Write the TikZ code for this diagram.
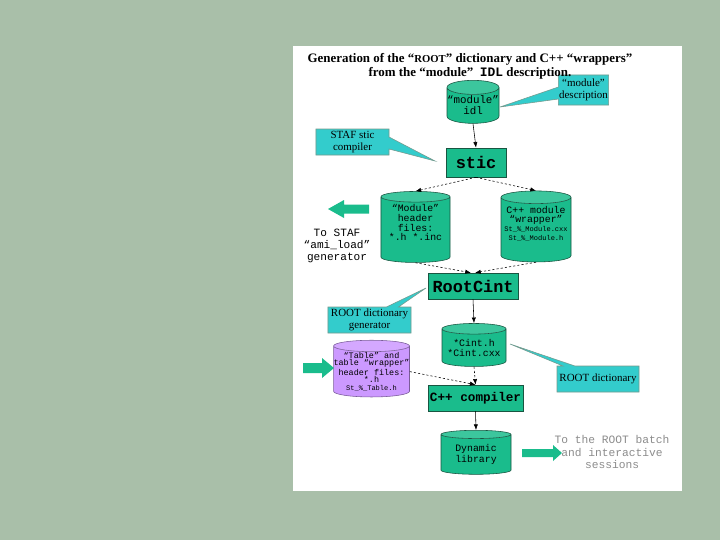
\documentclass[tikz,border=0pt]{standalone}
\usepackage{fontspec}
\setmainfont{Liberation Serif}
\setmonofont{Liberation Mono}
\usepackage{tikz}
\usetikzlibrary{shapes.geometric, shapes.callouts, arrows.meta}

\definecolor{slidebg}{RGB}{169,191,169}
\definecolor{boxgreen}{RGB}{26,188,140}
\definecolor{boxedge}{RGB}{25,85,65}
\definecolor{notecyan}{RGB}{51,204,204}
\definecolor{tablepurple}{RGB}{204,153,255}
\newcommand{\fsz}[2]{\fontsize{#1}{#2}\selectfont}

\begin{document}
\begin{tikzpicture}[x=0.025cm, y=-0.025cm,
  store/.style={cylinder, shape border rotate=90, aspect=0.2, draw=boxedge,
    cylinder uses custom fill, cylinder body fill=boxgreen,
    cylinder end fill=boxgreen!85!white, align=center, inner sep=0pt},
  tool/.style={rectangle, draw=boxedge, fill=boxgreen, inner sep=0pt,
    font=\ttfamily\bfseries},
  note/.style={rectangle callout, draw=boxedge!60, fill=notecyan, align=center,
    inner sep=0.5pt, callout pointer width=0.3cm, font=\fsz{7.8}{9}},
  flow/.style={-{Latex[length=4pt,width=3pt]}, black, thin},
  weak/.style={flow, dash pattern=on 1.5pt off 1.5pt}]

  %% Slide and page
  \fill[slidebg] (0,0) rectangle (720,540);
  \fill[white] (293,46) rectangle (682,491);

  %% Stores and tools
  \node[store, aspect=0.27, minimum width=1.2cm, minimum height=1.075cm,
    font=\ttfamily\fsz{7.7}{7.8}] (idl) at (473,105.5) {“module”\\idl};
  \node[tool, minimum width=1.5cm, minimum height=0.725cm, font=\ttfamily\bfseries\fsz{12}{14}]
    (stic) at (476,162.5) {stic};
  \node[store, minimum width=1.725cm, minimum height=1.775cm, text depth=10pt,
    font=\ttfamily\fsz{7}{6.8}] (hdr) at (415.5,229.75)
    {“Module”\\header\\files:\\*.h *.inc};
  \node[store, minimum width=1.75cm, minimum height=1.775cm, text depth=9pt,
    font=\ttfamily\fsz{7}{6.6}] (wrap) at (536,229.75)
    {C++ module\\“wrapper”\\{\fsz{5}{6}St\_\%\_Module.cxx}\\{\fsz{5}{6}St\_\%\_Module.h}};
  \node[tool, minimum width=2.25cm, minimum height=0.65cm, font=\ttfamily\bfseries\fsz{12}{14}]
    (rootcint) at (473,286) {RootCint};
  \node[store, minimum width=1.6cm, minimum height=1.075cm,
    font=\ttfamily\fsz{7}{7.5}] (cint) at (474,347.75) {*Cint.h\\*Cint.cxx};
  \node[store, aspect=0.15, minimum width=1.775cm, minimum height=1.35cm,
    cylinder body fill=tablepurple, cylinder end fill=tablepurple!85!white,
    draw=tablepurple!60!black, font=\ttfamily\fsz{6}{5.5}] (table) at (371.5,371.6)
    {“Table” and\\table “wrapper”\\header files:\\*.h\\{\fsz{5}{6}St\_\%\_Table.h}};
  \node[tool, minimum width=2.375cm, minimum height=0.65cm, font=\ttfamily\bfseries\fsz{9}{11}]
    (cxx) at (475.5,398) {C++ compiler};
  \node[store, minimum width=1.75cm, minimum height=1.1cm,
    font=\ttfamily\fsz{7}{8}] (dyn) at (476,454.5) {Dynamic\\library};

  %% Callouts
  \coordinate (descTip) at (500,107);
  \coordinate (staftip) at (435,161);
  \coordinate (gentip) at (426,288);
  \coordinate (dicttip) at (510,344);
  \node[note, minimum width=1.175cm, minimum height=0.75cm,
    callout absolute pointer={(descTip)}] (moddesc) at (583.5,90) {“module”\\description};
  \node[note, minimum width=1.825cm, minimum height=0.65cm,
    callout absolute pointer={(staftip)}] (stafc) at (352.5,142) {STAF stic\\compiler};
  \node[note, minimum width=2.075cm, minimum height=0.65cm,
    callout absolute pointer={(gentip)}] (rdgen) at (369.5,320) {ROOT dictionary\\generator};
  \node[note, minimum width=2.05cm, minimum height=0.65cm,
    callout absolute pointer={(dicttip)}] (rdict) at (598,379) {ROOT dictionary};

  %% Title
  \node[font=\bfseries\fsz{9.2}{10}, align=center] (title) at (470,66.5)
    {Generation of the “{\fsz{7.6}{10}ROOT}” dictionary and C++ “wrappers”\\
     from the “module”\ \ \texttt{IDL} description.};

  %% Flow
  \draw[flow] (idl.south) -- (stic.north);
  \draw[weak] (stic.south) -- (hdr.north);
  \draw[weak] (stic.south) -- (wrap.north);
  \draw[weak] (hdr.south) -- ([xshift=-1.5pt]rootcint.north);
  \draw[weak] (wrap.south) -- ([xshift=1.5pt]rootcint.north);
  \draw[flow] (rootcint.south) -- (cint.north);
  \draw[weak] (cint.south) -- (cxx.north);
  \draw[weak] (table.east) -- (cxx.north);
  \draw[flow] (cxx.south) -- (dyn.north);

  %% Block arrows
  \fill[boxgreen] (328,209) -- (344,200) -- (344,204.5) -- (369,204.5)
    -- (369,213.5) -- (344,213.5) -- (344,218) -- cycle;
  \fill[boxgreen] (334,368) -- (322,358) -- (322,363) -- (303,363)
    -- (303,373) -- (322,373) -- (322,378) -- cycle;
  \fill[boxgreen] (562,453) -- (553,445) -- (553,449) -- (522,449)
    -- (522,457) -- (553,457) -- (553,461) -- cycle;

  %% Side texts
  \node[font=\ttfamily\fsz{7.9}{8.6}, align=center] (stafgen) at (337,246)
    {To STAF\\“ami\_load”\\generator};
  \node[font=\ttfamily\fsz{8}{8.6}, text=black!45, align=center] (sessions) at (612,452)
    {To the ROOT batch\\and interactive\\sessions};
\end{tikzpicture}
\end{document}
